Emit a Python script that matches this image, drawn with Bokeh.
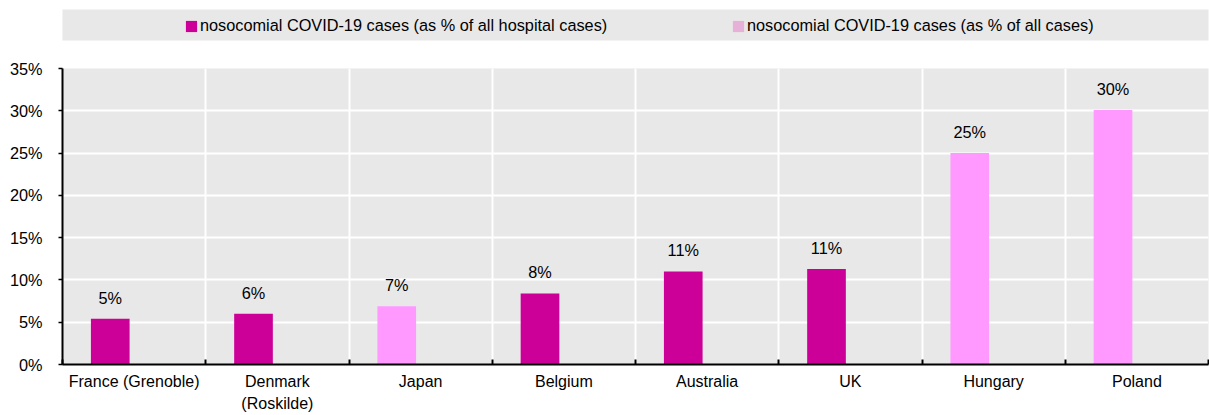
from bokeh.plotting import figure
from bokeh.models import (ColumnDataSource, Range1d, FixedTicker, PrintfTickFormatter,
                          Legend, LegendItem)
from bokeh.layouts import column
from bokeh.core.properties import value
from bokeh.embed import file_html
from bokeh.resources import INLINE

# ---------------- data ----------------
countries = ["France (Grenoble)", "Denmark\n(Roskilde)", "Japan", "Belgium",
             "Australia", "UK", "Hungary", "Poland"]
hospital_pct = [5.4, 6.0, None, 8.4, 11.0, 11.3, None, None]
all_cases_pct = [None, None, 6.9, None, None, None, 25.0, 30.1]
series_names = ["nosocomial COVID-19 cases (as % of all hospital cases)",
                "nosocomial COVID-19 cases (as % of all cases)"]
y_ticks = [0, 5, 10, 15, 20, 25, 30, 35]

# ---------------- style ----------------
FONT = "Liberation Sans"
FS = "16.3px"
MAGENTA = "#CC0099"
PINK = "#FF99FF"
PINK_LEGEND = "#E6B0D8"
PANEL = "#E8E8E8"
BAR_OFFSET = -1 / 6
BAR_WIDTH = 0.27


def make_source(vals):
    xs, tops, labels = [], [], []
    for i, v in enumerate(vals):
        if v is None:
            continue
        xs.append(i + 0.5 + BAR_OFFSET)
        tops.append(v)
        labels.append(f"{round(v)}%")
    return ColumnDataSource(dict(x=xs, top=tops, label=labels))


n = len(countries)

# ---------------- legend band ----------------
top = figure(width=1209, height=41, x_range=Range1d(0, 1), y_range=Range1d(0, 1),
             output_backend="svg", toolbar_location=None,
             x_axis_location=None, y_axis_location=None,
             min_border_left=62, min_border_right=0, min_border_top=9, min_border_bottom=1)
top.grid.visible = False
top.background_fill_color = PANEL
top.border_fill_color = "white"
top.outline_line_color = None
# legend-only renderers (their single bar lies outside the visible range)
lr1 = top.vbar(x=[-5], top=[0], width=0.1, fill_color=MAGENTA, line_color=None)
lr2 = top.vbar(x=[-5], top=[0], width=0.1, fill_color=PINK_LEGEND, line_color=None)
legend = Legend(items=[LegendItem(label=series_names[0], renderers=[lr1]),
                       LegendItem(label=series_names[1], renderers=[lr2])],
                orientation="horizontal", location=(122, 5), padding=0, margin=0,
                spacing=11, glyph_width=14, glyph_height=14, label_standoff=2,
                label_width=520, label_text_font=FONT, label_text_font_size=FS,
                label_text_color="#000000",
                background_fill_alpha=0, border_line_color=None)
top.add_layout(legend)

# ---------------- main chart ----------------
p = figure(width=1209, height=374, x_range=Range1d(0, n), y_range=Range1d(0, 35),
           output_backend="svg", toolbar_location=None,
           min_border_left=61, min_border_right=1, min_border_top=27, min_border_bottom=51)
p.background_fill_color = PANEL
p.border_fill_color = "white"
p.outline_line_color = None

src_h = make_source(hospital_pct)
src_a = make_source(all_cases_pct)
p.vbar(x="x", top="top", width=BAR_WIDTH, source=src_h, fill_color=MAGENTA, line_color=None)
p.vbar(x="x", top="top", width=BAR_WIDTH, source=src_a, fill_color=PINK, line_color=None)
for src in (src_h, src_a):
    p.text(x="x", y="top", text="label", source=src, text_align="center",
           text_baseline="alphabetic", y_offset=-21, text_font=value(FONT),
           text_font_size=FS, text_color="#000000")

# x axis: labels at centres, small ticks at category boundaries
centers = [i + 0.5 for i in range(n)]
bounds = list(range(n + 1))
xa = p.xaxis[0]
xa.ticker = FixedTicker(ticks=centers, minor_ticks=bounds)
xa.major_label_overrides = {c: lab for c, lab in zip(centers, countries)}
xa.major_tick_line_color = None
xa.minor_tick_in = 5
xa.minor_tick_out = 0
xa.minor_tick_line_color = "#000000"
xa.minor_tick_line_width = 2
xa.axis_line_color = "#000000"
xa.axis_line_width = 2
xa.major_label_standoff = 2
xa.major_label_text_font = FONT
xa.major_label_text_font_size = "16px"
xa.major_label_text_color = "#000000"
xa.major_label_text_line_height = 1.35

ya = p.yaxis[0]
ya.ticker = FixedTicker(ticks=y_ticks)
ya.formatter = PrintfTickFormatter(format="%d%%")
ya.axis_line_color = "#000000"
ya.axis_line_width = 2
ya.major_tick_in = 0
ya.major_tick_out = 4
ya.major_tick_line_color = "#000000"
ya.major_tick_line_width = 1.5
ya.minor_tick_line_color = None
ya.major_label_standoff = 16
ya.major_label_text_font = FONT
ya.major_label_text_font_size = FS
ya.major_label_text_color = "#000000"

p.xgrid.ticker = FixedTicker(ticks=bounds[1:-1])
p.ygrid.ticker = FixedTicker(ticks=y_ticks[1:-1])
p.grid.grid_line_color = "white"
p.grid.grid_line_width = 2

layout = column(top, p, spacing=0)
open("out.html", "w").write(file_html(layout, INLINE))
